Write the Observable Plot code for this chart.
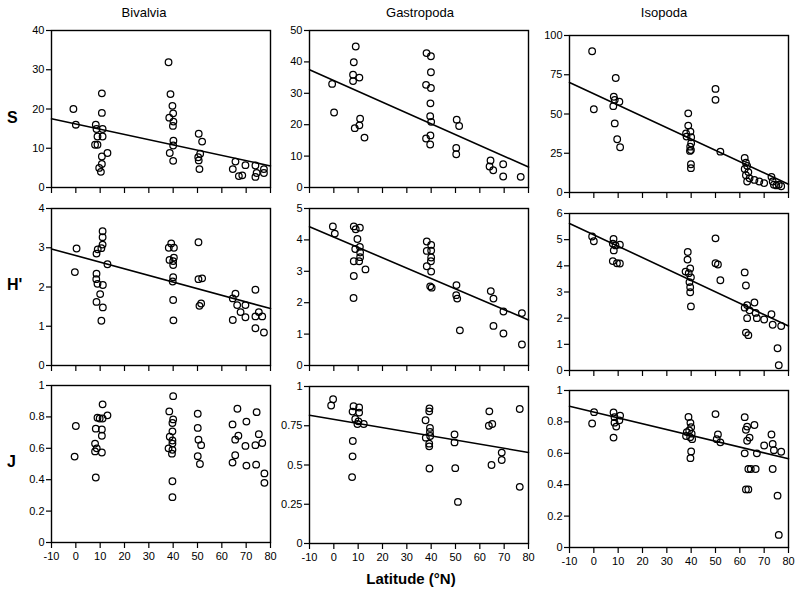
<!DOCTYPE html>
<html>
<head>
<meta charset="utf-8">
<script src="https://cdn.jsdelivr.net/npm/d3@7"></script>
<script src="https://cdn.jsdelivr.net/npm/@observablehq/plot@0.6"></script>
<style>
  html, body { margin: 0; padding: 0; background: #fff; }
  #root { position: relative; width: 800px; height: 601px; overflow: hidden; background: #fff; font-family: "Liberation Sans", Arial, sans-serif; }
  .lbl { position: absolute; color: #000; white-space: nowrap; }
  .title { font-size: 13px; transform: translateX(-50%); }
  .rowlab { font-size: 16px; font-weight: bold; transform: translateY(-50%); }
  .xlab { font-size: 15px; font-weight: bold; transform: translateX(-50%); }
</style>
</head>
<body>
<div id="root"></div>
<script>
// ---------- DATA ----------
const columns = ["Bivalvia", "Gastropoda", "Isopoda"];
const rows = ["S", "H'", "J"];
const latTicks = [-10, 0, 10, 20, 30, 40, 50, 60, 70, 80];
const fitLat = [-10, 80];

// Bivalvia S
const bivS_lat = [-1, 0, 10.7, 10.7, 8.2, 8.5, 11, 8.9, 11, 7.9, 8.9, 10.7, 13, 9.6, 10.7, 10.3,
  38.1, 38.9, 39.7, 40, 38.4, 40.1, 39.9, 40.1, 40, 38.6, 40,
  50.5, 51.9, 51.1, 50.3, 50.5, 50.8,
  65.6, 64.5, 67, 69.7, 68.4, 73.8, 73.8, 74.3, 77.3, 77.3];
const bivS_val = [20, 16, 24, 19, 16, 14.9, 14.9, 13, 13, 10.9, 10.9, 7.9, 8.8, 5, 6, 4,
  31.9, 23.8, 20.8, 18.9, 17.8, 16.8, 15.7, 11.9, 10.7, 8.8, 6.8,
  13.7, 11.7, 8.6, 7.7, 6.9, 4.7,
  6.6, 4.7, 2.9, 5.7, 3.1, 5.6, 2.7, 3.7, 4.7, 3.7];
const bivS_fit = [17.5, 5.5];

// Gastropoda S
const gasS_lat = [-0.7, 0.1, 9, 8.2, 7.9, 7.9, 10.5, 8.6, 10.8, 10.5, 12.6,
  38.1, 39.9, 39.9, 37.9, 39.9, 39.7, 39.6, 40, 39.7, 37.9, 39.6,
  50.5, 51.5, 50.3, 50.3,
  64.4, 64, 65.5, 69.6, 69.6, 76.8];
const gasS_val = [33, 23.9, 44.9, 39.9, 35.9, 33.9, 35, 18.9, 21.9, 19.8, 15.9,
  42.8, 41.8, 36.7, 32.7, 31.7, 26.8, 22.7, 20.9, 16.6, 15.6, 13.7,
  21.6, 19.6, 12.6, 10.6,
  8.6, 6.7, 5.5, 7.4, 3.5, 3.4];
const gasS_fit = [37.5, 6.5];

// Isopoda S
const isoS_lat = [-0.7, 0, 9, 8.2, 8.6, 8, 10.5, 8.6, 9.6, 10.8,
  38.8, 38.8, 39.7, 37.9, 38.1, 40, 40, 39.6, 39.9, 39.5, 39.9, 39.9,
  50, 50, 52,
  62, 62.5, 63, 62, 63.5, 62.5, 64, 63, 66, 68, 70, 73, 73.5, 74, 75, 76, 77];
const isoS_val = [90, 53, 72.9, 61, 59, 55, 57.8, 44, 33.9, 28.8,
  50.4, 42.6, 38.8, 37.7, 35.6, 35.2, 31.4, 29.2, 27.1, 26.5, 18, 15.5,
  66, 59, 26,
  22, 19, 17, 15, 13, 11, 9, 7, 8, 7, 6, 10, 7, 5, 4.5, 5, 4];
const isoS_fit = [70.1, 5.3];

// Bivalvia H'
const bivH_lat = [0.3, -0.4, 11, 11, 11, 10.5, 9, 8.5, 13, 8.5, 8.4, 8.9, 11.1, 10, 8.5, 11.1, 10.5,
  39.2, 38.2, 40.3, 40.3, 38.5, 40, 40, 40, 39.8, 40, 40.1,
  50.4, 50.4, 51.9, 51.5, 50.8,
  65.6, 64.5, 66.3, 64.5, 67.7, 69.7, 69.7, 73.8, 73.8, 75.2, 76.6, 73.8, 77.3];
const bivH_val = [2.98, 2.38, 3.42, 3.27, 3.08, 2.99, 2.96, 2.85, 2.58, 2.34, 2.2, 2.08, 2.05, 1.82, 1.62, 1.48, 1.14,
  3.11, 3.0, 3.0, 2.75, 2.69, 2.66, 2.56, 2.25, 2.14, 1.67, 1.15,
  3.14, 2.2, 2.22, 1.58, 1.52,
  1.83, 1.71, 1.54, 1.16, 1.36, 1.54, 1.23, 1.93, 1.25, 1.36, 1.25, 0.95, 0.84];
const bivH_fit = [2.97, 1.45];

// Gastropoda H'
const gasH_lat = [-0.4, 0.4, 8.2, 9, 10.7, 9.7, 10.7, 8.8, 10.8, 10.8, 8.2, 10.4, 13, 8.2, 8.1,
  38.2, 40, 38.2, 40, 40, 39.9, 38.2, 40, 39.6, 40.2,
  50.4, 50.3, 50.7, 51.8,
  64.5, 65.6, 69.7, 77.3, 65.6, 69.7, 77.3];
const gasH_val = [4.43, 4.2, 4.43, 4.34, 4.39, 4.03, 3.78, 3.71, 3.6, 3.45, 3.32, 3.32, 3.06, 2.85, 2.15,
  3.95, 3.84, 3.65, 3.66, 3.44, 3.32, 3.16, 2.99, 2.52, 2.48,
  2.56, 2.24, 2.13, 1.12,
  2.37, 2.13, 1.72, 1.67, 1.26, 1.02, 0.67];
const gasH_fit = [4.42, 1.45];

// Isopoda H'
const isoH_lat = [-0.7, 0, 8.1, 7.8, 8.9, 8.2, 10.7, 7.8, 9.5, 10.7,
  38.6, 38.5, 39.6, 37.7, 39, 39.9, 39.3, 39.6, 39.6, 39.9,
  50, 50, 51, 52,
  62, 62.5, 63, 62, 64, 63, 62.5, 63.5, 66, 66.5, 67, 70, 73, 73.5, 75.5, 76, 77];
const isoH_val = [5.12, 4.94, 5.03, 4.85, 4.78, 4.59, 4.81, 4.18, 4.1, 4.09,
  4.53, 4.24, 3.9, 3.78, 3.72, 3.56, 3.38, 3.18, 2.99, 2.45,
  5.05, 4.1, 4.05, 3.45,
  3.75, 3.25, 2.5, 2.4, 2.3, 2.0, 1.45, 1.35, 2.6, 2.2, 2.0, 1.95, 2.15, 1.75, 0.85, 0.2, 1.7];
const isoH_fit = [5.62, 1.7];

// Bivalvia J (no regression line)
const bivJ_lat = [0, -0.5, 11, 13, 8.9, 9.8, 11, 8.2, 10.7, 10.7, 7.9, 8.6, 7.9, 10.7, 8.2,
  40, 38.4, 40, 39.7, 39.7, 38.6, 39.7, 39.7, 38.1, 39.7, 39.5, 39.7, 39.7,
  50.1, 50.1, 50.4, 51.5, 50.1, 51,
  66.4, 64.4, 66.8, 65.5, 65.5, 64.4, 70.1, 74.3, 69.7, 75.2, 73.8, 76.6, 70.1, 74.1, 77.5, 77.5];
const bivJ_val = [0.742, 0.547, 0.88, 0.81, 0.795, 0.79, 0.79, 0.725, 0.72, 0.68, 0.63, 0.6, 0.58, 0.573, 0.414,
  0.932, 0.835, 0.784, 0.761, 0.708, 0.674, 0.65, 0.63, 0.6, 0.59, 0.566, 0.39, 0.289,
  0.82, 0.73, 0.655, 0.62, 0.55, 0.5,
  0.852, 0.752, 0.68, 0.655, 0.556, 0.509, 0.77, 0.83, 0.615, 0.69, 0.62, 0.634, 0.49, 0.496, 0.44, 0.38];
const bivJ_fit = null;

// Gastropoda J
const gasJ_lat = [-0.3, -1.1, 8.1, 10.4, 7.7, 10.4, 8.8, 10.1, 9.7, 12.3, 7.8, 7.7, 7.5,
  39.3, 39.2, 37.7, 39.5, 39.5, 37.8, 39.6, 39.2, 39.2, 39.3,
  49.6, 49.6, 49.9, 51,
  63.9, 65.1, 63.7, 69, 69, 64.8, 76.4, 76.4];
const gasJ_val = [0.919, 0.879, 0.874, 0.866, 0.84, 0.834, 0.793, 0.778, 0.761, 0.761, 0.653, 0.555, 0.423,
  0.861, 0.842, 0.785, 0.736, 0.71, 0.674, 0.685, 0.636, 0.619, 0.478,
  0.695, 0.644, 0.48, 0.265,
  0.842, 0.761, 0.75, 0.579, 0.532, 0.5, 0.857, 0.361];
const gasJ_fit = [0.817, 0.58];

// Isopoda J
const isoJ_lat = [0.1, -0.7, 8.1, 8.5, 10.8, 10.5, 8.5, 9.2, 8.1,
  38.9, 39.7, 40, 39.2, 38.2, 40.2, 37.9, 39.6, 40.4, 40, 39.7,
  50, 51, 50.5, 52,
  62, 63, 62.5, 64, 63, 62, 63.5, 64.5, 62.5, 63.5, 66, 67, 66.5, 70, 73, 73.5, 74, 73.5, 75.5, 76, 77];
const isoJ_val = [0.862, 0.79, 0.86, 0.83, 0.84, 0.81, 0.795, 0.77, 0.70,
  0.832, 0.794, 0.766, 0.745, 0.735, 0.725, 0.71, 0.703, 0.69, 0.612, 0.569,
  0.85, 0.72, 0.69, 0.67,
  0.83, 0.77, 0.75, 0.70, 0.68, 0.6, 0.5, 0.5, 0.37, 0.37, 0.78, 0.6, 0.5, 0.65, 0.72, 0.66, 0.62, 0.5, 0.33, 0.08, 0.61];
const isoJ_fit = [0.9, 0.565];

// y-axis ticks per panel
const ticksS = [[0, 10, 20, 30, 40], [0, 10, 20, 30, 40, 50], [0, 25, 50, 75, 100]];
const ticksH = [[0, 1, 2, 3, 4], [0, 1, 2, 3, 4, 5], [0, 1, 2, 3, 4, 5, 6]];
const ticksJ = [[0, 0.2, 0.4, 0.6, 0.8, 1], [0, 0.25, 0.5, 0.75, 1], [0, 0.2, 0.4, 0.6, 0.8, 1]];

// ---------- LAYOUT ----------
const root = document.getElementById("root");
const frameLeft = [51, 309, 569];
const frameTop = [[30, 208, 385], [30, 208, 386], [35, 213, 390]];
const FW = 219, FH = 157;
const ML = 40, MR = 12, MT = 8, MB = 28;
const tickFont = "'Liberation Sans Narrow', 'Liberation Sans', Arial, sans-serif";

const panels = [
  [bivS_lat, bivS_val, bivS_fit, ticksS[0]], [gasS_lat, gasS_val, gasS_fit, ticksS[1]], [isoS_lat, isoS_val, isoS_fit, ticksS[2]],
  [bivH_lat, bivH_val, bivH_fit, ticksH[0]], [gasH_lat, gasH_val, gasH_fit, ticksH[1]], [isoH_lat, isoH_val, isoH_fit, ticksH[2]],
  [bivJ_lat, bivJ_val, bivJ_fit, ticksJ[0]], [gasJ_lat, gasJ_val, gasJ_fit, ticksJ[1]], [isoJ_lat, isoJ_val, isoJ_fit, ticksJ[2]]
];

panels.forEach(([lat, val, fit, yt], k) => {
  const r = Math.floor(k / 3), c = k % 3;
  const pts = lat.map((x, i) => ({lat: x, v: val[i]}));
  const marks = [
    Plot.axisY({ticks: yt, tickFormat: d => String(d), tickSize: 5, tickPadding: 2, label: null, strokeWidth: 1.2}),
    Plot.axisX({ticks: latTicks, tickSize: 6, tickPadding: 4, label: null, strokeWidth: 1.2,
                tickFormat: r === 2 ? (d => String(d)) : (() => "")}),
    Plot.frame({stroke: "black", strokeWidth: 1.4})
  ];
  if (fit) {
    const fl = fitLat.map((x, i) => ({lat: x, v: fit[i]}));
    marks.push(Plot.line(fl, {x: "lat", y: "v", stroke: "black", strokeWidth: 1.6}));
  }
  marks.push(Plot.dot(pts, {x: "lat", y: "v", r: 3.3, stroke: "black", strokeWidth: 1.25, fill: "none"}));
  const svg = Plot.plot({
    width: FW + ML + MR, height: FH + MT + MB,
    marginLeft: ML, marginRight: MR, marginTop: MT, marginBottom: MB,
    x: {domain: [-10, 80], label: null},
    y: {domain: [0, yt[yt.length - 1]], label: null},
    style: {fontFamily: tickFont, fontSize: "11px", color: "black", background: "transparent", overflow: "visible"},
    marks
  });
  svg.style.position = "absolute";
  svg.style.left = (frameLeft[c] - ML) + "px";
  svg.style.top = (frameTop[c][r] - MT) + "px";
  root.appendChild(svg);
});

function addLabel(text, cls, left, top) {
  const d = document.createElement("div");
  d.className = "lbl " + cls;
  d.textContent = text;
  d.style.left = left + "px";
  d.style.top = top + "px";
  root.appendChild(d);
}
const titleX = [144, 420, 664];
columns.forEach((t, i) => addLabel(t, "title", titleX[i], 5));
const rowY = [118, 285, 462];
rows.forEach((t, i) => addLabel(t, "rowlab", 7, rowY[i]));
addLabel("Latitude  (°N)", "xlab", 411, 570);
</script>
</body>
</html>
